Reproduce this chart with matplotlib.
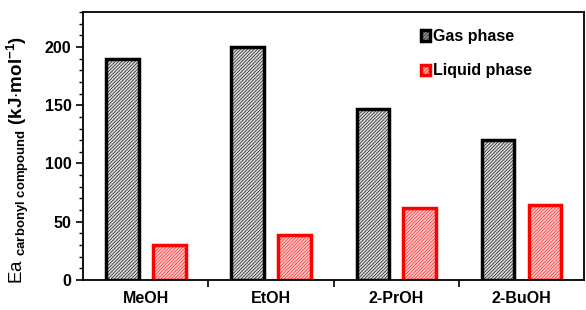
import matplotlib.pyplot as plt
import numpy as np
from matplotlib.ticker import MultipleLocator
from matplotlib.patches import Patch

plt.rcParams['font.family'] = ['Liberation Sans', 'DejaVu Sans']
plt.rcParams['font.weight'] = 'bold'
plt.rcParams['mathtext.fontset'] = 'custom'
plt.rcParams['mathtext.rm'] = 'Liberation Sans'
plt.rcParams['mathtext.it'] = 'Liberation Sans'
plt.rcParams['mathtext.bf'] = 'Liberation Sans:bold'
plt.rcParams['hatch.linewidth'] = 0.4

categories = ['MeOH', 'EtOH', '2-PrOH', '2-BuOH']
gas = [190, 200, 147, 120]
liquid = [30, 39, 62, 64]

fig = plt.figure(figsize=(5.86, 3.10), dpi=100)
ax = fig.add_axes([0.142, 0.097, 0.855, 0.864])

x = np.arange(len(categories))
w = 0.26
off = 0.187

ax.bar(x - off, gas, w, facecolor='#d4d4d4', edgecolor='black', linewidth=2.5,
       hatch='//////////', label='Gas phase')
ax.bar(x + off, liquid, w, facecolor='#ffc8c8', edgecolor='red', linewidth=2.5,
       hatch='//////////', label='Liquid phase')

ax.set_xlim(-0.5, 3.5)
ax.set_ylim(0, 230)
ax.yaxis.set_major_locator(MultipleLocator(50))
ax.yaxis.set_minor_locator(MultipleLocator(10))
ax.set_xticks(x)
ax.set_xticklabels(categories, fontsize=11.5, fontweight='bold')
ax.set_xticks([0.5, 1.5, 2.5], minor=True)
ax.tick_params(axis='x', which='major', length=0, pad=8)
ax.tick_params(axis='x', which='minor', length=5, width=1.2)
ax.tick_params(axis='y', which='major', length=5, width=1.2, labelsize=11.5)
ax.tick_params(axis='y', which='minor', length=3, width=1)
for lab in ax.get_yticklabels():
    lab.set_fontweight('bold')
for s in ax.spines.values():
    s.set_linewidth(1.3)

ax.set_ylabel(r'Ea $_{\mathrm{carbonyl\ compound}}$ $\mathbf{(kJ{\cdot}mol^{-1})}$',
              fontsize=13.5, fontweight='normal')
ax.yaxis.set_label_coords(-0.104, 0.45)

handles = [Patch(facecolor='#999999', edgecolor='black', linewidth=2.5, hatch='//////////'),
           Patch(facecolor='#ffb0b0', edgecolor='red', linewidth=2.5, hatch='//////////')]
ax.legend(handles, ['Gas phase', 'Liquid phase'], loc='upper right', frameon=False,
          fontsize=11.5, handlelength=0.6, handleheight=0.6, handletextpad=0.2,
          labelspacing=1.2, bbox_to_anchor=(0.925, 0.99))

fig.savefig('out.png', dpi=100)
